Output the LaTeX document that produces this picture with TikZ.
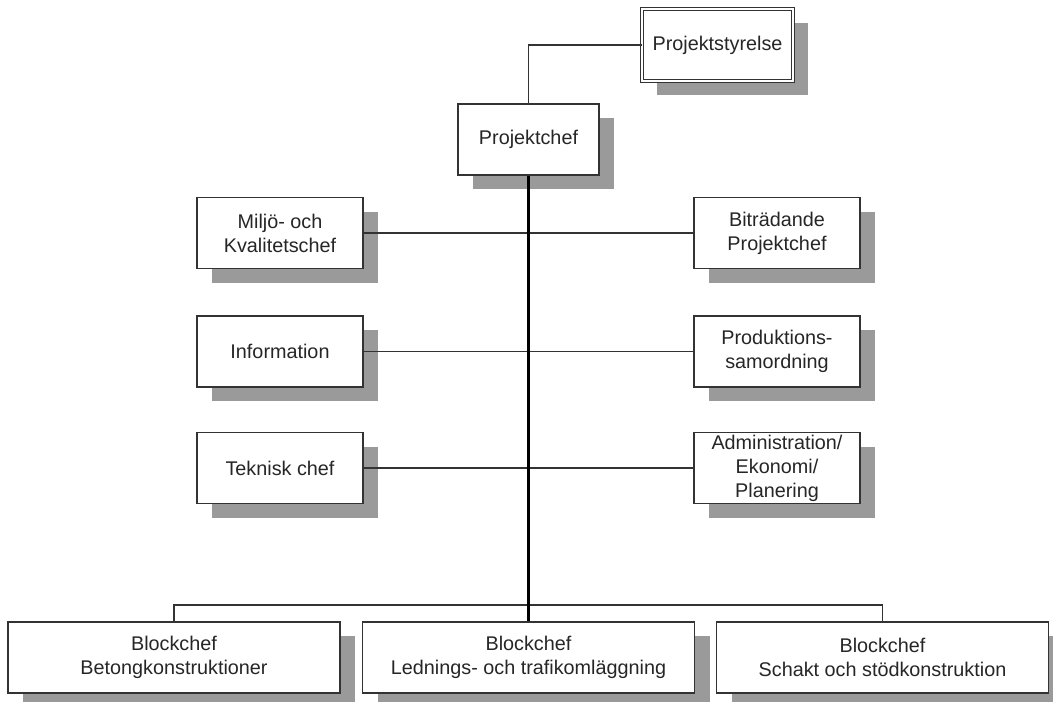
\documentclass[tikz,border=0pt]{standalone}
\usepackage{fontspec}
\setmainfont{Liberation Sans}
\usetikzlibrary{shadows}
\definecolor{edge}{HTML}{333333}
\definecolor{ink}{HTML}{262626}
\definecolor{shade}{HTML}{9A9A9A}
\begin{document}
\begin{tikzpicture}[x=1pt,y=-1pt,
  orgbox/.style={draw=edge, line width=1.4pt, fill=white, text=ink,
    align=center, inner sep=0pt, minimum height=71pt,
    font=\fontsize{19.8}{24}\selectfont,
    drop shadow={shadow xshift=15pt, shadow yshift=-14pt, fill=shade, opacity=1}},
  sidebox/.style={orgbox, minimum width=166pt},
  widebox/.style={orgbox, minimum width=332pt},
  link/.style={draw=edge, line width=1.2pt},
  trunk/.style={draw=black, line width=2.2pt}]
\useasboundingbox (0,0) rectangle (1053,702);
\clip (0,0) rectangle (1053,702);

% top of the hierarchy
\node[orgbox, minimum width=151pt, minimum height=72pt, double=white,
      double distance=1.8pt, line width=1pt] (styr) at (717.5,45) {Projektstyrelse};
\node[orgbox, minimum width=141pt] (pchef) at (528.5,139.5) {Projektchef};

% staff functions
\node[sidebox] (miljo) at (280,233) {Miljö- och\\Kvalitetschef};
\node[sidebox] (bitr)  at (777,233) {Biträdande\\Projektchef};
\node[sidebox] (info)  at (280,351.5) {Information};
\node[sidebox] (prod)  at (777,351.5) {Produktions-\\samordning};
\node[sidebox] (tekn)  at (280,468) {Teknisk chef};
\node[sidebox] (adm)   at (777,468) {Administration/\\Ekonomi/\\Planering};

% block managers
\node[widebox] (betong) at (174,657.5) {Blockchef\\Betongkonstruktioner};
\node[widebox] (ledn)   at (528.5,657.5) {Blockchef\\Lednings- och trafikomläggning};
\node[widebox] (schakt) at (882.5,657.5) {Blockchef\\Schakt och stödkonstruktion};

% connectors
\coordinate (bus) at (528.5,605);
\draw[link] (styr.west) -| (pchef.north);
\draw[link] (miljo.east) -- (bitr.west);
\draw[link] (info.east) -- (prod.west);
\draw[link] (tekn.east) -- (adm.west);
\draw[link] (betong.north) |- (bus) -| (schakt.north);
\draw[trunk] (pchef.south) -- (ledn.north);
\end{tikzpicture}
\end{document}
